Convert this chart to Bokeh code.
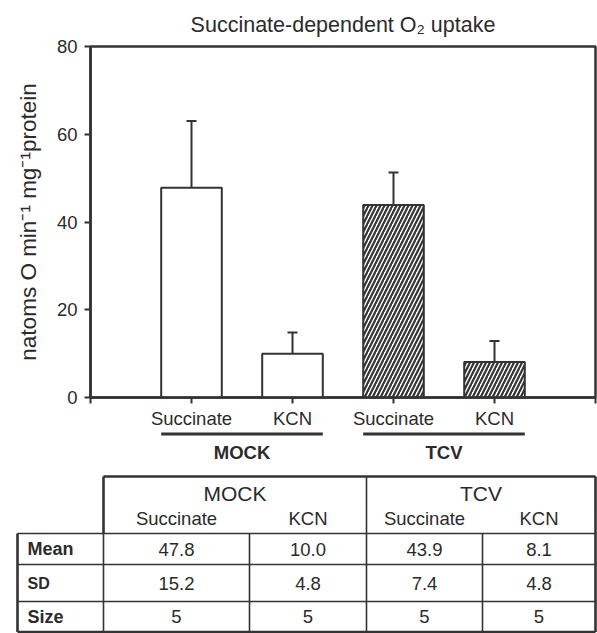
from bokeh.plotting import figure
from bokeh.layouts import column
from bokeh.models import ColumnDataSource, Range1d, FixedTicker, Whisker, TeeHead
from bokeh.core.properties import value
from bokeh.embed import file_html
from bokeh.resources import INLINE

# ---------------- data ----------------
groups = ["MOCK", "MOCK", "TCV", "TCV"]
treatments = ["Succinate", "KCN", "Succinate", "KCN"]
means = [47.8, 10.0, 43.9, 8.1]
sds = [15.2, 4.8, 7.4, 4.8]
sizes = [5, 5, 5, 5]
hatched = [False, False, True, True]
y_ticks = [0, 20, 40, 60, 80]
row_labels = ["Mean", "SD", "Size"]
title_text = "Succinate-dependent O\u2082 uptake"
y_label = "natoms O min\u207b\u00b9 mg\u207b\u00b9protein"

# ---------------- style / layout ----------------
FONT = "Liberation Sans"
INK = "#333333"
TXT = "#2b2b2b"
W = 597
H1 = 431
H2 = 202
FL, FR, FT, FB = 90, 2, 44, 33
BAR_W = 0.6

pos = [i + 1 for i in range(len(means))]
upper = [m + s for m, s in zip(means, sds)]
src = ColumnDataSource(dict(x=pos, top=means, upper=upper,
                            hatch=["/" if h else " " for h in hatched]))

# ---------------- chart ----------------
p = figure(width=W, height=H1, x_range=Range1d(0, len(means) + 1), y_range=Range1d(0, 80),
           output_backend="svg", toolbar_location=None,
           min_border_left=FL, min_border_right=FR, min_border_top=FT, min_border_bottom=FB,
           title=title_text)
p.frame_align = False
p.title.text_font = FONT
p.title.text_font_size = "21.5px"
p.title.text_font_style = "normal"
p.title.text_color = TXT
p.title.align = "center"
p.title.standoff = 20
p.grid.visible = False
p.outline_line_color = INK
p.outline_line_width = 2.5
p.background_fill_color = "white"
p.border_fill_color = "white"

p.vbar(x="x", top="top", bottom=0, width=BAR_W, source=src,
       fill_color="white", line_color=INK, line_width=2,
       hatch_pattern="hatch", hatch_color=INK, hatch_weight=2.2, hatch_scale=8)

wh = Whisker(source=src, base="x", lower="top", upper="upper", dimension="height",
             line_color=INK, line_width=2, lower_head=None,
             upper_head=TeeHead(size=10, line_color=INK, line_width=2))
p.add_layout(wh)

xa = p.xaxis[0]
xa.ticker = FixedTicker(ticks=list(range(0, len(means) + 2)))
ov = {0: "", len(means) + 1: ""}
ov.update({x: t for x, t in zip(pos, treatments)})
xa.major_label_overrides = ov
ya = p.yaxis[0]
ya.ticker = FixedTicker(ticks=y_ticks)
ya.axis_label = y_label
ya.axis_label_text_font = FONT
ya.axis_label_text_font_size = "22.5px"
ya.axis_label_text_font_style = "normal"
ya.axis_label_text_color = TXT
ya.axis_label_standoff = 13
for ax in (xa, ya):
    ax.axis_line_color = INK
    ax.axis_line_width = 2.5
    ax.major_tick_line_color = INK
    ax.major_tick_line_width = 2
    ax.major_tick_in = 0
    ax.major_tick_out = 6
    ax.minor_tick_line_color = None
    ax.major_label_text_font = FONT
    ax.major_label_text_font_size = "18.5px"
    ax.major_label_text_color = TXT
xa.major_label_standoff = 4
ya.major_label_standoff = 7

# ---------------- group labels + table ----------------
unit = (W - FL - FR) / (len(means) + 1)


def px(v):
    return (v - FL) / unit


q = figure(width=W, height=H2, x_range=Range1d(px(0), px(W)), y_range=Range1d(H2, 0),
           output_backend="svg", toolbar_location=None, min_border=0,
           min_border_left=0, min_border_right=0, min_border_top=0, min_border_bottom=0,
           x_axis_type=None, y_axis_type=None)
q.frame_align = False
q.outline_line_color = None
q.background_fill_color = "white"
q.border_fill_color = "white"

group_names = []
for g in groups:
    if g not in group_names:
        group_names.append(g)
gx0, gx1, gxc = [], [], []
for g in group_names:
    xs = [x for x, gg in zip(pos, groups) if gg == g]
    gx0.append(min(xs) - BAR_W / 2)
    gx1.append(max(xs) + BAR_W / 2)
    gxc.append((min(xs) + max(xs)) / 2)
q.segment(x0=gx0, y0=[2.5] * len(gx0), x1=gx1, y1=[2.5] * len(gx0), line_color=INK, line_width=3)
q.text(x=gxc, y=[21] * len(gxc), text=group_names, text_font=value(FONT), text_font_size="18.5px",
       text_font_style="bold", text_color=TXT, text_align="center", text_baseline="middle")

# table geometry (pixels)
TX = [17, 103, 249, 366, 482, 595]
TY = [45, 102, 133, 170, 200.5]
X = [px(v) for v in TX]


def seg(xa_, ya_, xb_, yb_, lw):
    q.segment(x0=[xa_], y0=[ya_], x1=[xb_], y1=[yb_], line_color=INK, line_width=lw)


thick, thin = 2.6, 1.6
seg(X[1], TY[0], X[5], TY[0], thick)
seg(X[1], TY[0], X[1], TY[1], thick)
seg(X[0], TY[1], X[0], TY[4], thick)
seg(X[0], TY[4], X[5], TY[4], thick)
seg(X[5], TY[0], X[5], TY[4], thick)
for yy in TY[1:4]:
    seg(X[0], yy, X[5], yy, thin)
seg(X[1], TY[1], X[1], TY[4], thin)
seg(X[3], TY[0], X[3], TY[4], thin)
seg(X[2], TY[1], X[2], TY[4], thin)
seg(X[4], TY[1], X[4], TY[4], thin)

# header texts
hx = [(X[1] + X[3]) / 2, (X[3] + X[5]) / 2]
q.text(x=hx, y=[62, 62], text=group_names, text_font=value(FONT), text_font_size="21px",
       text_color=TXT, text_align="center", text_baseline="middle")
cx = [(X[i] + X[i + 1]) / 2 for i in range(1, 5)]
q.text(x=cx, y=[87] * 4, text=treatments, text_font=value(FONT), text_font_size="18.5px",
       text_color=TXT, text_align="center", text_baseline="middle")

row_y = [(TY[i] + TY[i + 1]) / 2 for i in range(1, 4)]
q.text(x=[px(27)] * 3, y=row_y, text=row_labels, text_font=value(FONT),
       text_font_size=["18px", "16px", "18px"], text_font_style="bold", text_color=TXT,
       text_align="left", text_baseline="middle")

rows = [[f"{m:.1f}" for m in means], [f"{s:.1f}" for s in sds], [str(n) for n in sizes]]
for ry, vals in zip(row_y, rows):
    q.text(x=cx, y=[ry] * 4, text=vals, text_font=value(FONT), text_font_size="18.5px",
           text_color=TXT, text_align="center", text_baseline="middle")

layout = column(p, q)
open("out.html", "w").write(file_html(layout, INLINE))
